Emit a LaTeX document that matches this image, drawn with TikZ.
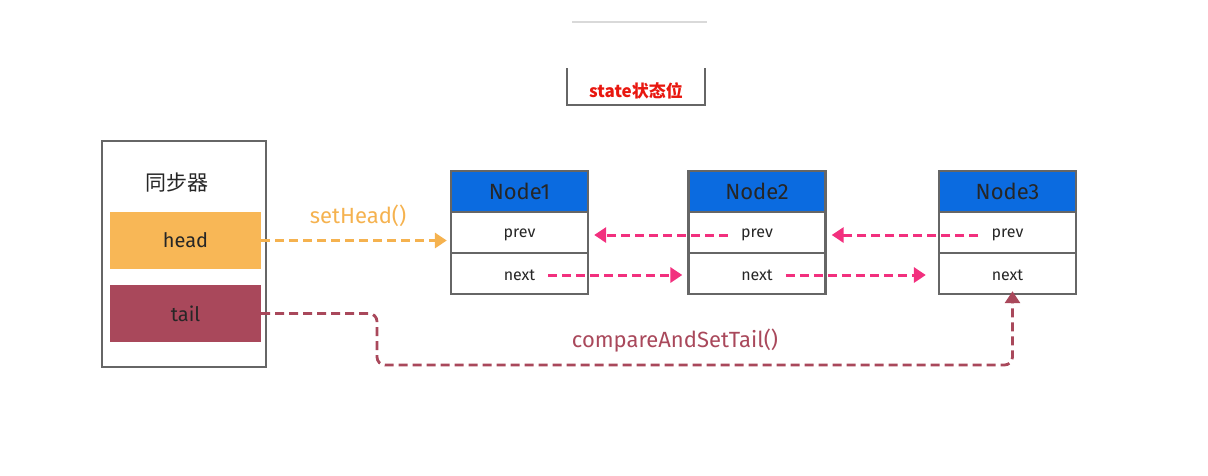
\documentclass[tikz,border=0pt]{standalone}
\usepackage{fontspec}
\setmainfont{Fira Sans}
\newfontfamily\cjk{Noto Sans CJK SC}
\usetikzlibrary{arrows.meta}
\definecolor{bord}{HTML}{666666}
\definecolor{headc}{HTML}{F8B756}
\definecolor{tailc}{HTML}{A9485B}
\definecolor{blueh}{HTML}{0B6BE0}
\definecolor{pinkc}{HTML}{F2307E}
\definecolor{orangel}{HTML}{F5B24F}
\definecolor{redt}{HTML}{E8170F}
\tikzset{
  frame/.style={draw=bord, line width=2.3pt, inner sep=0pt},
  hdr/.style={frame, fill=blueh, minimum width=137pt, minimum height=41pt, font=\fontsize{22}{25}\selectfont, text=black!85},
  row/.style={frame, fill=white, minimum width=137pt, minimum height=41pt},
  field/.style={font=\fontsize{16}{19}\selectfont, text=black!85, inner sep=1pt},
  slot/.style={minimum width=151pt, minimum height=57pt, inner sep=0pt, font=\fontsize{20}{23}\selectfont, text=black!85},
  pinkarrow/.style={pinkc, line width=3pt, dash pattern=on 9pt off 5pt, -{Triangle[length=12pt,width=15pt]}},
}
\begin{document}
\begin{tikzpicture}[x=1pt,y=-1pt]
\useasboundingbox (0,0) rectangle (1208,475);
% state box
\draw[black!15, line width=2pt] (572,22) -- (707,22);
\coordinate (s1) at (567,68);
\coordinate (s2) at (705,68);
\draw[bord, line width=2.3pt] (s1) -- (567,105) -- (705,105) -- (s2);
\node[text=redt, font=\cjk\bfseries\fontsize{17}{20}\selectfont] (state) at (636,91) {state状态位};
% synchronizer
\node[frame, minimum width=164pt, minimum height=226pt] (sync) at (184,254) {};
\node[font=\cjk\fontsize{21}{25}\selectfont, text=black!85] (synct) at (177,183) {同步器};
\node[slot, fill=headc] (head) at (185.5,240.5) {head};
\node[slot, fill=tailc] (tail) at (185.5,313.5) {tail};
% linked nodes
\foreach \i/\x in {1/519.5, 2/757, 3/1007.5}{
  \node[hdr] (n\i h) at (\x,191.5) {Node\i};
  \node[row] (n\i p) at (\x,232.5) {};
  \node[row] (n\i n) at (\x,273.5) {};
  \node[field] (n\i pt) at (\x,235) {prev};
  \node[field] (n\i nt) at (\x,275) {next};
}
% setHead
\node[text=orangel, font=\fontsize{22}{25}\selectfont] (sh) at (358,216) {setHead()};
\draw[orangel, line width=3pt, dash pattern=on 9pt off 5pt, -{Triangle[length=12pt,width=15pt]}] (head.east) -- ([xshift=-3pt]n1p.west |- head.east);
% pink arrows
\draw[pinkarrow] ([xshift=-12pt]n2pt.west) -- ([xshift=5pt]n1p.east |- n2pt.west);
\draw[pinkarrow] ([xshift=-12pt]n3pt.west) -- ([xshift=5pt]n2p.east |- n3pt.west);
\draw[pinkarrow] ([xshift=12pt]n1nt.east) -- ([xshift=-5pt]n2n.west |- n1nt.east);
\draw[pinkarrow] ([xshift=12pt]n2nt.east) -- ([xshift=-12pt]n3n.west |- n2nt.east);
% tail arrow
\coordinate (tb) at (377,365);
\draw[tailc, line width=2.8pt, dash pattern=on 9pt off 5pt, rounded corners=8pt, -{Triangle[length=12pt,width=15pt]}]
  (tail.east) -| (tb) -| ([xshift=5pt,yshift=4pt]n3n.south);
\node[text=tailc, font=\fontsize{22}{25}\selectfont] (cas) at (675,341) {compareAndSetTail()};
\end{tikzpicture}
\end{document}
